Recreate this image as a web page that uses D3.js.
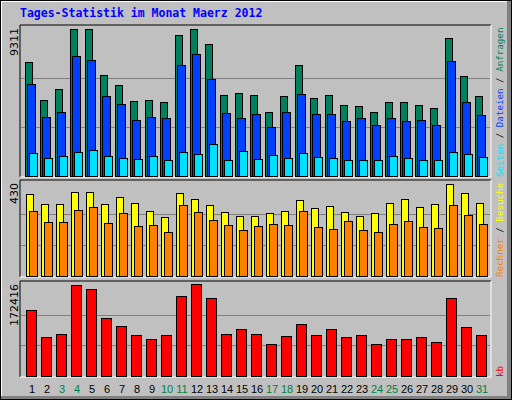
<!DOCTYPE html>
<html><head><meta charset="utf-8">
<script src="https://cdn.jsdelivr.net/npm/d3@7"></script>
<style>body{margin:0;background:#fff}</style>
</head><body>
<svg width="512" height="400"></svg>
<script>
// Daily values, March 2012
var days = d3.range(1, 32);
var weekend = [3, 4, 10, 11, 17, 18, 24, 25, 31];
var anfragen = [7221,4814,5511,9311,9311,6397,5764,4751,4814,4687,8931,9311,8361,5131,5257,5131,4054,5067,7031,4941,5131,4497,4434,4054,4687,4687,4497,4307,8741,6334,5067];
var dateien = [5827,3737,4054,7601,7347,5067,4560,3547,3737,3674,7031,7727,6144,3990,3674,3927,3104,4054,5194,3927,3927,3484,3674,3230,3674,3484,3547,3230,7284,4687,3864];
var seiten = [1457,1140,1267,1520,1647,1267,1140,1077,1267,1013,1520,1393,2027,1013,1584,1077,1330,1140,1457,1203,1140,1013,1013,1013,1267,1140,1013,1013,1520,1393,1203];
var besuche = [378,332,332,387,387,332,364,336,299,271,382,355,327,295,276,276,290,299,350,313,322,295,276,290,336,355,318,332,424,382,336];
var rechner = [299,248,248,304,318,244,290,230,234,202,327,295,258,234,211,230,239,234,299,225,216,253,211,202,239,253,225,221,327,281,239];
var kb = [123500,72760,78400,170500,163000,108500,93440,76520,69000,76520,149800,172416,146100,78400,87800,78400,59600,74640,97200,76520,87800,72760,76520,59600,69000,69000,72760,63360,146100,91560,76520];
var maxHits = 9311, maxVisits = 430, maxKb = 172416;

var svg = d3.select("svg");
var mono = "'DejaVu Sans Mono', monospace";

// frame
svg.append("rect").attr("x", 0).attr("y", 0).attr("width", 512).attr("height", 400).attr("fill", "#000");
svg.append("rect").attr("x", 1).attr("y", 1).attr("width", 510).attr("height", 398).attr("fill", "#808080");
svg.append("rect").attr("x", 1).attr("y", 1).attr("width", 506).attr("height", 395).attr("fill", "#fff");
svg.append("rect").attr("x", 2).attr("y", 2).attr("width", 505).attr("height", 394).attr("fill", "#C0C0C0");

svg.append("text").attr("x", 20).attr("y", 17).attr("fill", "#0000FF")
  .style("font-family", mono).style("font-size", "11.5px").style("font-weight", "bold")
  .text("Tages-Statistik im Monat Maerz 2012");

var x = d3.scaleLinear().domain([1, 31]).range([25, 475]);

var panels = [
  {top: 25, bottom: 177, plotTop: 29, max: maxHits, label: "9311",
   series: [{v: anfragen, dx: 0, w: 7, c: "#00805C"}, {v: dateien, dx: 2, w: 8, c: "#0040FF"}, {v: seiten, dx: 4, w: 8, c: "#00E0FF"}],
   legend: [["Seiten", "#00E0FF"], ["Dateien", "#0040FF"], ["Anfragen", "#00805C"]]},
  {top: 180, bottom: 277, plotTop: 183, max: maxVisits, label: "430",
   series: [{v: besuche, dx: 1, w: 7, c: "#FFFF00"}, {v: rechner, dx: 4, w: 8, c: "#FF8000"}],
   legend: [["Rechner", "#FF8000"], ["Besuche", "#FFFF00"]]},
  {top: 281, bottom: 377, plotTop: 284, max: maxKb, label: "172416",
   series: [{v: kb, dx: 1, w: 10, c: "#FF0000"}],
   legend: [["kb", "#FF0000"]]}
];

panels.forEach(function(p) {
  var base = p.bottom - 1;
  var y = d3.scaleLinear().domain([0, p.max]).range([base, p.plotTop]);
  // panel box
  svg.append("path").attr("d", "M20," + p.bottom + "V" + p.top + "H491").attr("stroke", "#000").attr("fill", "none");
  svg.append("path").attr("d", "M491," + p.top + "V" + p.bottom + "H20").attr("stroke", "#fff").attr("fill", "none");
  // grid
  svg.selectAll(null).data([p.max / 3, p.max * 2 / 3]).enter().append("line")
    .attr("x1", 21).attr("x2", 490)
    .attr("y1", function(d) { return Math.round(y(d)) + 0.5; })
    .attr("y2", function(d) { return Math.round(y(d)) + 0.5; })
    .attr("stroke", "#808080");
  // bars
  p.series.forEach(function(s) {
    svg.selectAll(null).data(days).enter().append("rect")
      .attr("x", function(d) { return x(d) + s.dx + 0.5; })
      .attr("y", function(d) { return Math.round(y(s.v[d - 1])) + 0.5; })
      .attr("width", s.w)
      .attr("height", function(d) { return base - Math.round(y(s.v[d - 1])); })
      .attr("fill", s.c).attr("stroke", "#000");
  });
  // y max label
  svg.append("text").attr("transform", "translate(18," + (p.top + 3) + ") rotate(-90)")
    .attr("text-anchor", "end").attr("fill", "#000")
    .style("font-family", "'DejaVu Sans', sans-serif").style("font-size", "11px").text(p.label);
  // legend on right
  var t = svg.append("text").attr("transform", "translate(503," + (p.bottom) + ") rotate(-90)")
    .style("font-family", mono).style("font-size", "9.2px");
  p.legend.forEach(function(l, i) {
    if (i > 0) t.append("tspan").attr("fill", "#000").text(" / ");
    t.append("tspan").attr("fill", l[1]).text(l[0]);
  });
});

// day labels
svg.selectAll(null).data(days).enter().append("text")
  .attr("x", function(d) { return x(d) + 7; }).attr("y", 393)
  .attr("text-anchor", "middle")
  .attr("fill", function(d) { return weekend.indexOf(d) >= 0 ? "#008040" : "#000"; })
  .style("font-family", "'Liberation Sans', sans-serif").style("font-size", "11px")
  .text(function(d) { return d; });
</script>
</body></html>
